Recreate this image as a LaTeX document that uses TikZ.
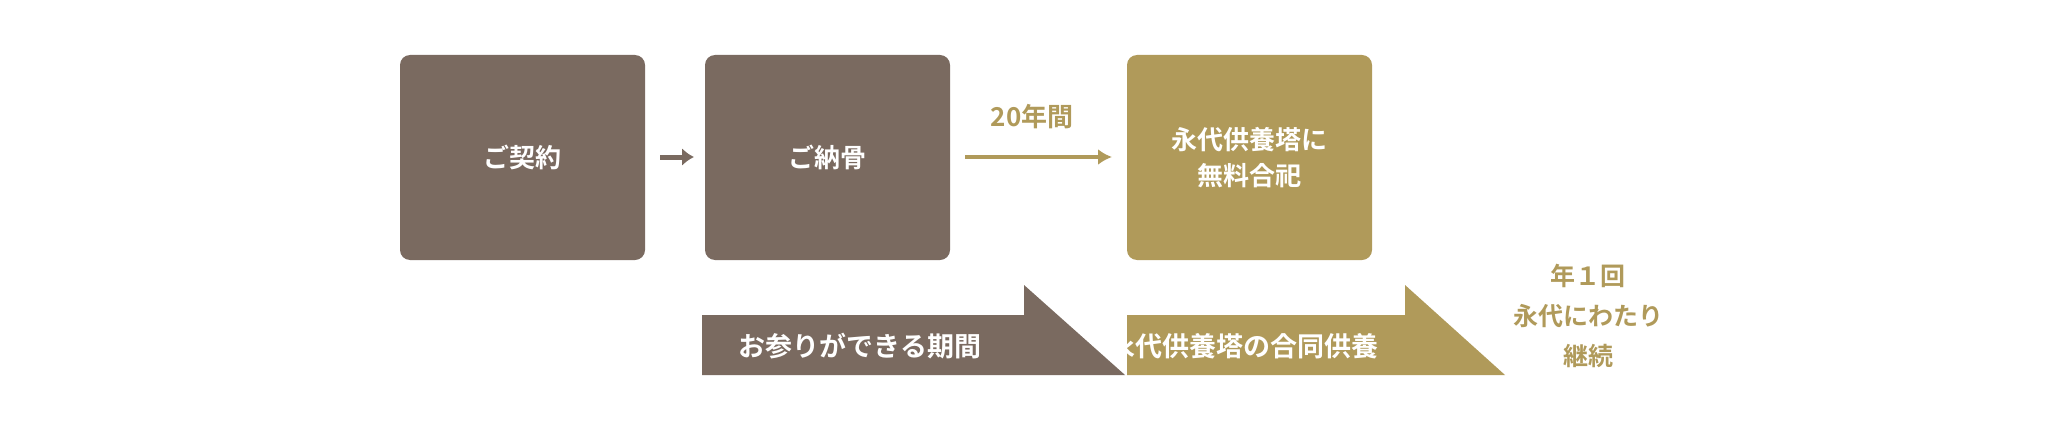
\documentclass[tikz,border=0pt]{standalone}
\usepackage{fontspec}
\setmainfont{Noto Sans CJK JP Bold}
\definecolor{brn}{HTML}{7A6A60}
\definecolor{gld}{HTML}{B09A5A}
\begin{document}
\begin{tikzpicture}[x=1pt,y=-1pt,
  box/.style={rounded corners=10pt,minimum width=245pt,minimum height=205pt,text=white,font=\fontsize{26}{36}\selectfont,align=center,inner sep=0},
  lbl/.style={text=white,font=\fontsize{27}{32}\selectfont,inner sep=0},
  arr/.style={line width=4pt,-{Latex[length=14pt,width=16pt]}}]
\usetikzlibrary{arrows.meta}
\useasboundingbox (0,0) rectangle (2060,436);
\node[box,fill=brn] (b1) at (522.5,157.5) {ご契約};
\node[box,fill=brn] (b2) at (827.5,157.5) {ご納骨};
\node[box,fill=gld] (b3) at (1249.5,157.5) {永代供養塔に\\無料合祀};
\draw[arr,brn,line width=5pt,-{Latex[length=12pt,width=18pt]}] (660,157) -- (694,157);
\draw[arr,gld] (965,157) -- (1112,157);
\node[text=gld,font=\fontsize{26}{30}\selectfont] (t) at (1032,117) {20年間};
\fill[brn] (702,315) -- (1024,315) -- (1024,285) -- (1125,375) -- (702,375) -- cycle;
\fill[gld] (1127,315) -- (1405,315) -- (1405,285) -- (1505,375) -- (1127,375) -- cycle;
\node[lbl] (l1) at (860,346) {お参りができる期間};
\node[lbl] (l2) at (1243,346) {永代供養塔の合同供養};
\node[text=gld,font=\fontsize{25}{40}\selectfont,align=center] (r) at (1588,316) {年１回\\永代にわたり\\継続};
\end{tikzpicture}
\end{document}
